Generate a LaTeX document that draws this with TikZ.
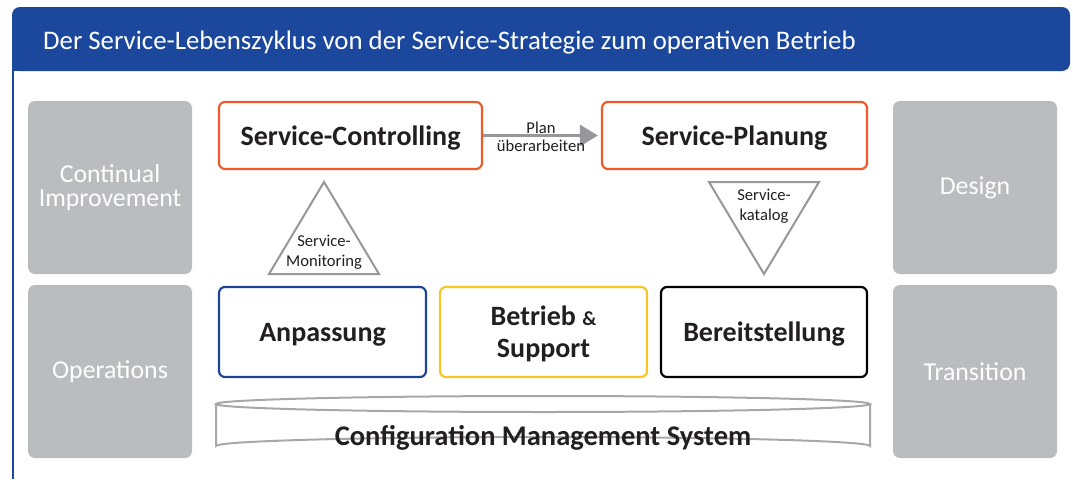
\documentclass[tikz,border=0pt]{standalone}
\usepackage{fontspec}
\setmainfont{Carlito}
\usetikzlibrary{arrows.meta}
\definecolor{hdrblue}{HTML}{1B489C}
\definecolor{graybox}{HTML}{BBBCC0}
\definecolor{grayline}{HTML}{95979B}
\definecolor{cylline}{HTML}{A8A8A8}
\definecolor{orangeb}{HTML}{EF5A2A}
\definecolor{yellowb}{HTML}{F6C623}
\definecolor{blueb}{HTML}{1D4597}
\definecolor{txt}{HTML}{231F20}
\tikzset{
  phase/.style={fill=graybox, rounded corners=7, minimum width=164, minimum height=173,
    text=white, font=\fontsize{25.8}{25}\selectfont, align=center, inner sep=0},
  procbox/.style={draw, line width=2.2, rounded corners=6, fill=white, text=txt,
    font=\bfseries\fontsize{28}{32}\selectfont, align=center, inner sep=0, text depth=0pt},
  small/.style={text=txt, font=\fontsize{16.6}{20}\selectfont, align=center, inner sep=0},
  tri/.style={draw=grayline, line width=2, line join=miter},
  arrowst/.style={draw=grayline, line width=3, -{Triangle[length=18,width=21]}, shorten >=3}
}
\begin{document}
\begin{tikzpicture}[x=1pt,y=-1pt]
\useasboundingbox[fill=white] (0,0) rectangle (1073,479);
% header
\fill[hdrblue, rounded corners=8] (12,7) rectangle (1070,71);
\fill[hdrblue] (12,50) rectangle (30,71);
\draw[hdrblue, line width=1.6] (13,70) -- (13,479);
\node[anchor=west, text=white, font=\fontsize{26.8}{28}\selectfont, inner sep=0] (title) at (43,42)
  {Der Service-Lebenszyklus von der Service-Strategie zum operativen Betrieb};
% phase boxes
\node[phase] (ci) at (110,187.5) {Continual\\[-1pt]Improvement};
\node[phase] (op) at (110,371.5) {Operations};
\node[phase] (de) at (975,187.5) {Design};
\node[phase] (tr) at (975,371.5) {Transition};
% process boxes
\node[procbox, draw=orangeb, minimum width=263, minimum height=67] (ctrl) at (350.5,135.5) {Service-Controlling};
\node[procbox, draw=orangeb, minimum width=265, minimum height=67] (plan) at (734.5,135.5) {Service-Planung};
\node[procbox, draw=blueb, minimum width=207, minimum height=90] (anp) at (322.5,332) {Anpassung};
\node[procbox, draw=yellowb, minimum width=207, minimum height=90] (betr) at (543.5,332)
  {Betrieb {\fontsize{20}{20}\selectfont\&}\\Support};
\node[procbox, draw=black, minimum width=206, minimum height=90] (bereit) at (764,332) {Bereitstellung};
% arrow
\draw[arrowst] (ctrl.east) -- (plan.west);
\node[small, anchor=south] (pl1) at (541,134) {Plan};
\node[small, anchor=north] (pl2) at (541,140) {überarbeiten};
% triangles
\coordinate (mA) at (324,182);
\coordinate (mB) at (269,274);
\coordinate (mC) at (379,274);
\draw[tri] (mA) -- (mB) -- (mC) -- cycle;
\node[small] (mon) at (324,252) {Service-\\Monitoring};
\coordinate (kA) at (709,182);
\coordinate (kB) at (819,182);
\coordinate (kC) at (764,274);
\draw[tri] (kA) -- (kB) -- (kC) -- cycle;
\node[small] (kat) at (764,206) {Service-\\katalog};
% cylinder
\draw[cylline, line width=2, fill=white] (216,404) -- (216,446) arc[start angle=180, end angle=360, x radius=327, y radius=9] -- (870,404);
\draw[cylline, line width=2, fill=white] (543,404) ellipse[x radius=327, y radius=8];
\node[text=txt, font=\bfseries\fontsize{28.5}{30}\selectfont, inner sep=0] (cms) at (543,438) {Configuration Management System};
\end{tikzpicture}
\end{document}
